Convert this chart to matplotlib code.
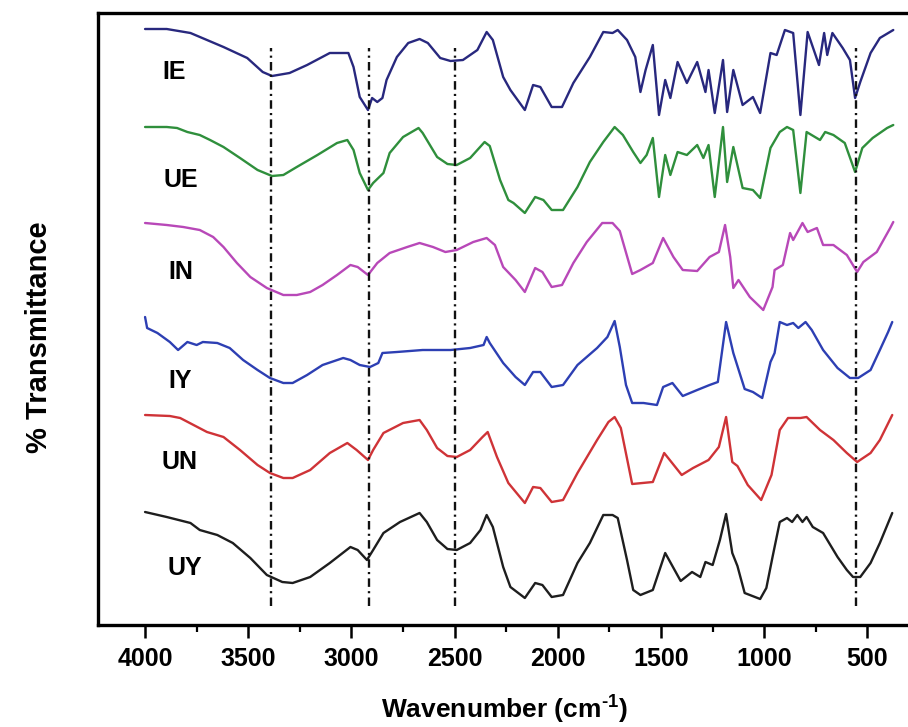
import numpy as np
import matplotlib
matplotlib.use("Agg")
import matplotlib.pyplot as plt

plt.rcParams['font.family'] = ['Liberation Sans', 'DejaVu Sans']
plt.rcParams['font.weight'] = 'bold'
plt.rcParams['mathtext.fontset'] = 'custom'
plt.rcParams['mathtext.rm'] = 'Liberation Sans:bold'
plt.rcParams['mathtext.bf'] = 'Liberation Sans:bold'
plt.rcParams['mathtext.default'] = 'bf'

# スペクトル（読み取り値、縦軸は任意単位でオフセット込み）
ie_wn = [4000, 3895, 3780, 3620, 3505, 3430, 3385, 3300, 3215, 3105, 3015, 2990, 2960, 2920, 2900,
         2875, 2850, 2830, 2780, 2725, 2670, 2630, 2570, 2520, 2460, 2390, 2345, 2315, 2265, 2230,
         2160, 2120, 2085, 2030, 1980, 1925, 1845, 1780, 1735, 1710, 1665, 1625, 1600, 1575, 1540,
         1510, 1480, 1455, 1420, 1375, 1325, 1285, 1270, 1240, 1200, 1180, 1150, 1105, 1055, 1020,
         970, 940, 900, 860, 825, 790, 735, 710, 695, 670, 620, 585, 560, 535, 485, 440, 375]
ie_t = [596, 596, 592, 578, 567, 553, 549, 552, 560, 572, 572, 558, 528, 515, 527,
        523, 527, 545, 568, 582, 586, 582, 567, 564, 565, 575, 593, 585, 548, 535,
        515, 540, 538, 518, 518, 542, 568, 593, 592, 595, 585, 568, 533, 555, 580,
        510, 545, 527, 563, 542, 563, 533, 555, 512, 565, 513, 555, 520, 528, 512,
        572, 570, 595, 592, 510, 593, 560, 592, 570, 592, 577, 565, 527, 543, 572, 587, 595]

ue_wn = [4000, 3895, 3845, 3795, 3735, 3685, 3620, 3540, 3455, 3385, 3330, 3265, 3165, 3070, 3020,
         2990, 2960, 2920, 2895, 2845, 2815, 2750, 2675, 2655, 2585, 2535, 2490, 2425, 2355, 2330,
         2280, 2240, 2215, 2160, 2110, 2070, 2030, 1975, 1905, 1845, 1780, 1725, 1685, 1635, 1600,
         1570, 1540, 1510, 1480, 1455, 1420, 1375, 1325, 1295, 1270, 1240, 1200, 1180, 1150, 1105,
         1055, 1020, 970, 925, 890, 860, 825, 795, 730, 705, 665, 610, 560, 525, 475, 405, 375]
ue_t = [498, 498, 497, 493, 490, 485, 478, 467, 455, 449, 450, 458, 470, 482, 485,
        475, 452, 435, 442, 452, 472, 488, 497, 492, 468, 461, 460, 467, 483, 479,
        445, 425, 422, 412, 428, 425, 415, 415, 438, 463, 483, 498, 490, 473, 462,
        470, 487, 428, 470, 450, 473, 470, 480, 467, 480, 428, 498, 443, 478, 437,
        435, 427, 477, 493, 498, 495, 432, 493, 485, 493, 490, 482, 453, 477, 487, 497, 500]

in_wn = [4000, 3895, 3815, 3735, 3670, 3620, 3555, 3490, 3410, 3330, 3265, 3200, 3140, 3070, 3005,
         2970, 2920, 2875, 2815, 2730, 2670, 2605, 2545, 2490, 2410, 2345, 2305, 2265, 2205, 2160,
         2110, 2075, 2030, 1980, 1925, 1860, 1785, 1735, 1700, 1640, 1600, 1540, 1490, 1440, 1395,
         1325, 1265, 1220, 1190, 1165, 1150, 1125, 1070, 1005, 960, 950, 910, 875, 860, 815,
         790, 745, 715, 665, 600, 550, 520, 455, 390, 375]
in_t = [402, 400, 398, 395, 388, 378, 362, 348, 337, 330, 330, 333, 340, 350, 360,
        358, 350, 362, 372, 378, 382, 378, 373, 375, 383, 387, 380, 358, 345, 333,
        357, 353, 338, 340, 362, 383, 402, 402, 394, 351, 355, 362, 387, 368, 355,
        354, 368, 373, 400, 368, 337, 345, 328, 315, 338, 355, 360, 392, 385, 402,
        393, 397, 380, 380, 370, 353, 363, 373, 397, 403]

iy_wn = [4000, 3990, 3940, 3880, 3840, 3795, 3750, 3720, 3650, 3590, 3525, 3455, 3395, 3330, 3285,
         3215, 3140, 3040, 3005, 2960, 2910, 2870, 2850, 2780, 2655, 2520, 2425, 2360, 2345, 2330,
         2265, 2205, 2160, 2120, 2085, 2030, 1975, 1905, 1810, 1760, 1725, 1700, 1670, 1640, 1585,
         1520, 1490, 1445, 1395, 1325, 1265, 1225, 1185, 1150, 1095, 1055, 1010, 970, 950, 925,
         890, 860, 835, 800, 770, 715, 645, 585, 545, 485, 440, 400, 380]
iy_t = [308, 297, 292, 283, 275, 283, 280, 283, 282, 277, 265, 255, 247, 242, 242,
        250, 260, 267, 265, 260, 258, 262, 272, 273, 275, 275, 277, 280, 288, 282,
        262, 248, 240, 253, 253, 238, 240, 260, 277, 288, 304, 278, 240, 222, 222,
        220, 238, 242, 229, 235, 240, 243, 303, 272, 236, 233, 227, 263, 272, 303,
        300, 302, 297, 303, 295, 275, 257, 247, 247, 255, 275, 293, 303]

un_wn = [4000, 3880, 3830, 3765, 3700, 3620, 3540, 3455, 3395, 3330, 3285, 3200, 3105, 3020, 2975,
         2920, 2895, 2845, 2750, 2670, 2635, 2585, 2535, 2490, 2425, 2365, 2340, 2295, 2240, 2160,
         2120, 2085, 2030, 1975, 1905, 1810, 1755, 1725, 1695, 1640, 1540, 1485, 1400, 1345, 1270,
         1220, 1185, 1155, 1130, 1080, 1015, 965, 925, 885, 825, 795, 770, 730, 665, 600,
         550, 485, 440, 380]
un_t = [210, 209, 207, 200, 193, 188, 175, 160, 152, 147, 147, 155, 172, 182, 175,
        165, 175, 192, 202, 205, 195, 177, 169, 168, 175, 188, 193, 168, 142, 122,
        138, 137, 123, 125, 152, 185, 203, 208, 197, 141, 143, 172, 150, 157, 165,
        178, 208, 163, 159, 140, 125, 150, 195, 207, 207, 208, 203, 195, 185, 172,
        163, 172, 185, 210]

uy_wn = [4000, 3895, 3780, 3735, 3650, 3575, 3490, 3410, 3335, 3285, 3200, 3105, 3005, 2970, 2925,
         2895, 2845, 2765, 2670, 2635, 2585, 2535, 2490, 2425, 2375, 2345, 2315, 2265, 2230, 2160,
         2110, 2075, 2030, 1975, 1905, 1845, 1780, 1735, 1710, 1665, 1635, 1600, 1540, 1480, 1405,
         1350, 1310, 1285, 1250, 1215, 1185, 1155, 1130, 1095, 1020, 990, 960, 925, 890, 865,
         840, 815, 795, 765, 715, 645, 600, 570, 535, 485, 440, 380]
uy_t = [113, 108, 102, 95, 90, 82, 67, 50, 43, 42, 48, 62, 78, 75, 65,
        75, 92, 103, 112, 103, 85, 76, 75, 82, 95, 110, 98, 58, 38, 27,
        42, 40, 28, 30, 62, 82, 110, 110, 107, 65, 35, 30, 35, 72, 44,
        53, 48, 63, 60, 85, 111, 72, 59, 32, 26, 37, 68, 103, 107, 103,
        110, 103, 108, 98, 92, 68, 55, 48, 48, 62, 82, 112]

names = ["IE", "UE", "IN", "IY", "UN", "UY"]
colors = ["#28287e", "#2f8f3c", "#b848b8", "#2d3fb3", "#cf3337", "#1e1e1e"]
label_wn = [3918, 3913, 3889, 3889, 3918, 3893]
label_t = [553, 445, 353, 244, 163, 57]

peaks = [3390, 2915, 2500, 555]

fig = plt.figure(figsize=(9.08, 7.27), dpi=100)
ax = fig.add_axes([98 / 908, 102 / 727, 812 / 908, 612 / 727])

spectra = [(ie_wn, ie_t), (ue_wn, ue_t), (in_wn, in_t),
           (iy_wn, iy_t), (un_wn, un_t), (uy_wn, uy_t)]
for (wn, t), c in zip(spectra, colors):
    ax.plot(wn, t, color=c, lw=1.7, solid_joinstyle='round', solid_capstyle='round')

# 縦の一点鎖線
ax.vlines(peaks, 19, 577, colors='#111111', lw=1.7,
          linestyles=[(0, (3.6, 1.8, 0.9, 1.8))])

for n, x, y in zip(names, label_wn, label_t):
    ax.text(x, y, n, fontsize=18, fontweight='bold', ha='left', va='center')

ax.set_xlim(4228, 294)
ax.set_ylim(0, 612)
ax.set_xticks(np.arange(4000, 499, -500))
ax.set_xticks(np.arange(3750, 400, -500), minor=True)
ax.set_yticks([])
ax.tick_params(axis='x', which='major', direction='out', length=9, width=1.8,
               labelsize=18, pad=7)
ax.tick_params(axis='x', which='minor', direction='out', length=5, width=1.6)
for lab in ax.get_xticklabels():
    lab.set_fontweight('bold')
for s in ax.spines.values():
    s.set_linewidth(2.4)

ax.set_xlabel(r'Wavenumber (cm$^{\text{-}1}$)', fontsize=19, fontweight='bold')
ax.xaxis.set_label_coords(0.5, -0.112)
ax.set_ylabel('% Transmittance', fontsize=21, fontweight='bold')
ax.yaxis.set_label_coords(-0.056, 0.47)

fig.savefig("out.png", dpi=100, facecolor='white')
